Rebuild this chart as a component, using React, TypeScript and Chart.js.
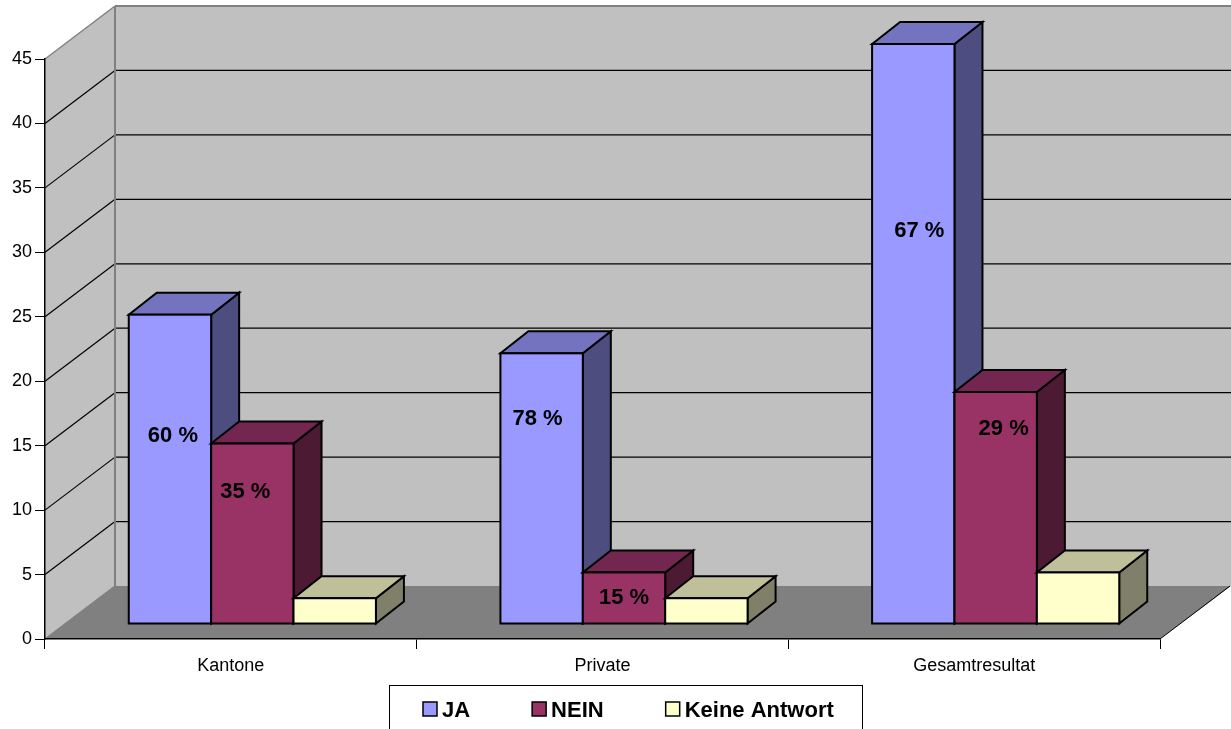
import React, { useEffect, useRef } from "react";
import { Chart, registerables } from "chart.js";

Chart.register(...registerables);

// Survey answers per respondent group
const categories = ["Kantone", "Private", "Gesamtresultat"];
const seriesNames = ["JA", "NEIN", "Keine Antwort"];
const jaValues = [24, 21, 45];
const neinValues = [14, 4, 18];
const keineValues = [2, 2, 4];
const yMax = 45;
const yStep = 5;

// Percentage captions; the height of each caption is given in axis units
const jaCaptions = ["60 %", "78 %", "67 %"];
const neinCaptions = ["35 %", "15 %", "29 %"];
const jaCaptionLevels = [15.75, 17.07, 31.65];
const neinCaptionLevels = [11.4, 3.18, 16.29];

const FONT = '"Liberation Sans", Arial, sans-serif';
const FRONT_COLORS = ["#9999ff", "#993366", "#ffffcc"];
const TOP_COLORS = ["#7373bf", "#732650", "#bfbf99"];
const SIDE_COLORS = ["#4d4d80", "#4d1a33", "#80806a"];

// Projection of the box: back wall offset, bar footprint offset and bar depth
const WALL_DX = 70;
const WALL_DY = 53;
const BAR_DX = 21.5;
const BAR_DY = 15;
const DEPTH_DX = 28;
const DEPTH_DY = 22;

const JA_NUDGE = [3, -4, 6];
const NEIN_NUDGE = [-7, 0, 8];

function polygon(ctx: CanvasRenderingContext2D, pts: number[][], fill: string | null, stroke: string | null, lw = 1) {
  ctx.beginPath();
  pts.forEach(([x, y], i) => (i ? ctx.lineTo(x, y) : ctx.moveTo(x, y)));
  ctx.closePath();
  if (fill) {
    ctx.fillStyle = fill;
    ctx.fill();
  }
  if (stroke) {
    ctx.strokeStyle = stroke;
    ctx.lineWidth = lw;
    ctx.lineJoin = "miter";
    ctx.stroke();
  }
}

function line(ctx: CanvasRenderingContext2D, x0: number, y0: number, x1: number, y1: number, color: string, lw: number) {
  ctx.beginPath();
  ctx.moveTo(x0, y0);
  ctx.lineTo(x1, y1);
  ctx.strokeStyle = color;
  ctx.lineWidth = lw;
  ctx.stroke();
}

const box3d = {
  id: "box3d",
  // Walls and floor go under the axes
  beforeDraw(chart: any) {
    const { ctx, chartArea: a, scales } = chart;
    const y = scales.y;
    const l = a.left, r = a.right, t = a.top, b = a.bottom;
    ctx.save();
    polygon(ctx, [[l + WALL_DX, t - WALL_DY], [r + WALL_DX + 1, t - WALL_DY], [r + WALL_DX + 1, b - WALL_DY], [l + WALL_DX, b - WALL_DY]], "#c0c0c0", null);
    polygon(ctx, [[l, t], [l + WALL_DX, t - WALL_DY], [l + WALL_DX, b - WALL_DY], [l, b]], "#c0c0c0", null);
    polygon(ctx, [[l, b], [l + WALL_DX, b - WALL_DY], [r + WALL_DX + 1, b - WALL_DY], [r, b]], "#808080", null);
    y.ticks.forEach((tick: any) => {
      if (tick.value === 0 || tick.value === yMax) return;
      const py = y.getPixelForValue(tick.value);
      line(ctx, l, py, l + WALL_DX, py - WALL_DY, "#000000", 1.2);
      line(ctx, l + WALL_DX, py - WALL_DY, r + WALL_DX + 1, py - WALL_DY, "#000000", 1.2);
    });
    line(ctx, l, t, l + WALL_DX, t - WALL_DY, "#808080", 1.5);
    line(ctx, l + WALL_DX, t - WALL_DY, r + WALL_DX + 1, t - WALL_DY, "#808080", 2);
    line(ctx, l + WALL_DX, t - WALL_DY, l + WALL_DX, b - WALL_DY, "#808080", 2);
    line(ctx, l, b, l + WALL_DX, b - WALL_DY, "#808080", 1.5);
    line(ctx, r, b, r + WALL_DX, b - WALL_DY, "#000000", 1);
    ctx.restore();
  },
  // Bars are painted left to right so each front face covers its neighbour's side
  beforeDatasetsDraw(chart: any) {
    const { ctx } = chart;
    ctx.save();
    ctx.translate(BAR_DX, -BAR_DY);
    chart.data.datasets.forEach((_: any, i: number) => {
      chart.getDatasetMeta(i).data.forEach((el: any) => {
        const { x, y, base, width } = el.getProps(["x", "y", "base", "width"], true);
        const x0 = x - width / 2;
        const x1 = x + width / 2;
        polygon(ctx, [[x1, y], [x1 + DEPTH_DX, y - DEPTH_DY], [x1 + DEPTH_DX, base - DEPTH_DY], [x1, base]], SIDE_COLORS[i], "#000000", 2);
        polygon(ctx, [[x0, y], [x0 + DEPTH_DX, y - DEPTH_DY], [x1 + DEPTH_DX, y - DEPTH_DY], [x1, y]], TOP_COLORS[i], "#000000", 2);
        el.draw(ctx);
        ctx.strokeStyle = "#000000";
        ctx.lineWidth = 2;
        ctx.strokeRect(x0, y, width, base - y);
      });
    });
    ctx.restore();
    return false;
  },
  afterDraw(chart: any) {
    const { ctx, scales } = chart;
    ctx.save();
    ctx.fillStyle = "#000000";
    ctx.textAlign = "center";
    ctx.textBaseline = "middle";
    ctx.font = `bold 22px ${FONT}`;
    const captions: [string[], number[], number[], number][] = [
      [jaCaptions, jaCaptionLevels, JA_NUDGE, 0],
      [neinCaptions, neinCaptionLevels, NEIN_NUDGE, 1],
    ];
    captions.forEach(([texts, levels, nudge, ds]) => {
      chart.getDatasetMeta(ds).data.forEach((el: any, i: number) => {
        ctx.fillText(texts[i], el.x + BAR_DX + nudge[i], scales.y.getPixelForValue(levels[i]));
      });
    });

    // Legend frame runs past the lower canvas edge
    ctx.strokeStyle = "#000000";
    ctx.lineWidth = 1;
    ctx.strokeRect(389.5, 685.5, 473, 60);
    let cursor = 423;
    ctx.textAlign = "left";
    ctx.textBaseline = "alphabetic";
    seriesNames.forEach((name, i) => {
      ctx.fillStyle = FRONT_COLORS[i];
      ctx.fillRect(cursor, 702, 14, 14);
      ctx.strokeStyle = "#000000";
      ctx.lineWidth = 1.5;
      ctx.strokeRect(cursor, 702, 14, 14);
      ctx.fillStyle = "#000000";
      ctx.fillText(name, cursor + 19, 717);
      cursor += 19 + ctx.measureText(name).width + 62;
    });
    ctx.restore();
  },
};

export default function App() {
  const canvasRef = useRef<HTMLCanvasElement>(null);

  useEffect(() => {
    document.body.style.margin = "0";
    document.body.style.overflow = "hidden";
    const seriesValues = [jaValues, neinValues, keineValues];
    const chart = new Chart(canvasRef.current!, {
      type: "bar",
      data: {
        labels: categories,
        datasets: seriesNames.map((label, i) => ({
          label,
          data: seriesValues[i],
          backgroundColor: FRONT_COLORS[i],
          borderWidth: 0,
          barPercentage: 1,
          categoryPercentage: 0.665,
        })),
      },
      options: {
        responsive: false,
        animation: false,
        devicePixelRatio: 1,
        layout: { padding: { left: 0, right: 71, top: 59, bottom: 0 } },
        plugins: { legend: { display: false }, tooltip: { enabled: false }, title: { display: false } },
        scales: {
          x: {
            afterFit: (s: any) => {
              s.height = 90;
            },
            grid: { drawOnChartArea: false, drawTicks: true, tickLength: 10, color: "#000000", offset: true },
            border: { display: true, color: "#000000", width: 1.5 },
            ticks: { color: "#000000", font: { family: FONT, size: 18 }, padding: 6, maxRotation: 0 },
          },
          y: {
            min: 0,
            max: yMax,
            afterFit: (s: any) => {
              s.width = 45;
            },
            grid: { drawOnChartArea: false, drawTicks: true, tickLength: 10, color: "#000000" },
            border: { display: true, color: "#000000", width: 1.5 },
            ticks: { stepSize: yStep, color: "#000000", font: { family: FONT, size: 18 }, padding: 3 },
          },
        },
      },
      plugins: [box3d],
    } as any);
    return () => chart.destroy();
  }, []);

  return <canvas ref={canvasRef} width={1231} height={729} style={{ display: "block" }} />;
}
